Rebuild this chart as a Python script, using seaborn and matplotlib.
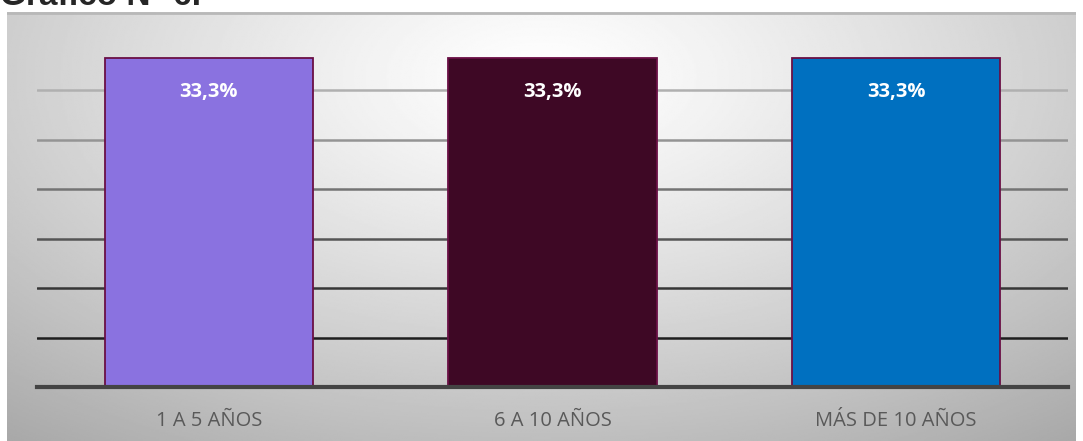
import matplotlib
matplotlib.use('Agg')
import matplotlib.pyplot as plt
import numpy as np
import pandas as pd
import seaborn as sns

# Data
categories = ['1 A 5 AÑOS', '6 A 10 AÑOS', 'MÁS DE 10 AÑOS']
values = [33.3, 33.3, 33.3]
bar_colors = ['#8A72E0', '#3E0825', '#0070C0']
labels = ['33,3%', '33,3%', '33,3%']

df = pd.DataFrame({'cat': categories, 'val': values})

sns.set_style('white')
plt.rcParams['font.family'] = ['Open Sans', 'DejaVu Sans']

W, H = 1083, 441
fig = plt.figure(figsize=(W / 100, H / 100), dpi=100)

# Chart area background with radial gradient
bg = fig.add_axes([7 / W, 0, (1076 - 7) / W, (441 - 12) / H])
yy, xx = np.mgrid[0:1:300j, 0:1:600j]
r = np.sqrt(((xx - 0.5) / 0.75) ** 2 + ((yy - 0.85) / 1.0) ** 2)
shade = np.clip(1.0 - 0.31 * r ** 1.2, 0, 1)
bg.imshow(shade, cmap='gray', vmin=0, vmax=1, aspect='auto',
          extent=[0, 1, 0, 1], origin='lower')
bg.set_xlim(0, 1)
bg.set_ylim(0, 1)
bg.axis('off')
bg.axhline(0.998, color='#b8b8b8', lw=2)

# Plot area
x0, x1 = 37, 1068
y_base, y_top = 387, 41
ax = fig.add_axes([x0 / W, (H - y_base) / H, (x1 - x0) / W, (y_base - y_top) / H])
ax.patch.set_alpha(0)

sns.barplot(data=df, x='cat', y='val', hue='cat', palette=bar_colors,
            saturation=1, legend=False, width=0.606, edgecolor='#6A0F45',
            linewidth=1.3, ax=ax, zorder=3)

ax.set_ylim(0, 35)
ax.set_xlim(-0.5, 2.5)
ax.set_yticks([5, 10, 15, 20, 25, 30])
ax.yaxis.grid(True, linewidth=1.8)
grid_cols = ['#1e1e1e', '#363636', '#555555', '#747474', '#949494', '#b0b0b0']
for gl, c in zip(ax.get_ygridlines(), grid_cols):
    gl.set_color(c)
ax.set_axisbelow(True)
ax.tick_params(axis='y', left=False, labelleft=False)
ax.tick_params(axis='x', bottom=False, labelsize=14.5, labelcolor='#595959', pad=14)
ax.set_xlabel('')
ax.set_ylabel('')
for s in ['top', 'right', 'left']:
    ax.spines[s].set_visible(False)
ax.spines['bottom'].set_color('#444444')
ax.spines['bottom'].set_linewidth(3)
ax.spines['bottom'].set_zorder(4)

for i, (v, lab) in enumerate(zip(values, labels)):
    ax.text(i, v - 3.5, lab, ha='center', va='center', color='white',
            fontsize=14.5, fontweight='bold', zorder=5)

fig.text(0.0, 1.0 - 5 / H, 'Gráfico N° 6.', ha='left', va='baseline',
         fontsize=24, fontweight='bold', family=['Liberation Sans', 'DejaVu Sans'])

fig.savefig('out.png', dpi=100)
